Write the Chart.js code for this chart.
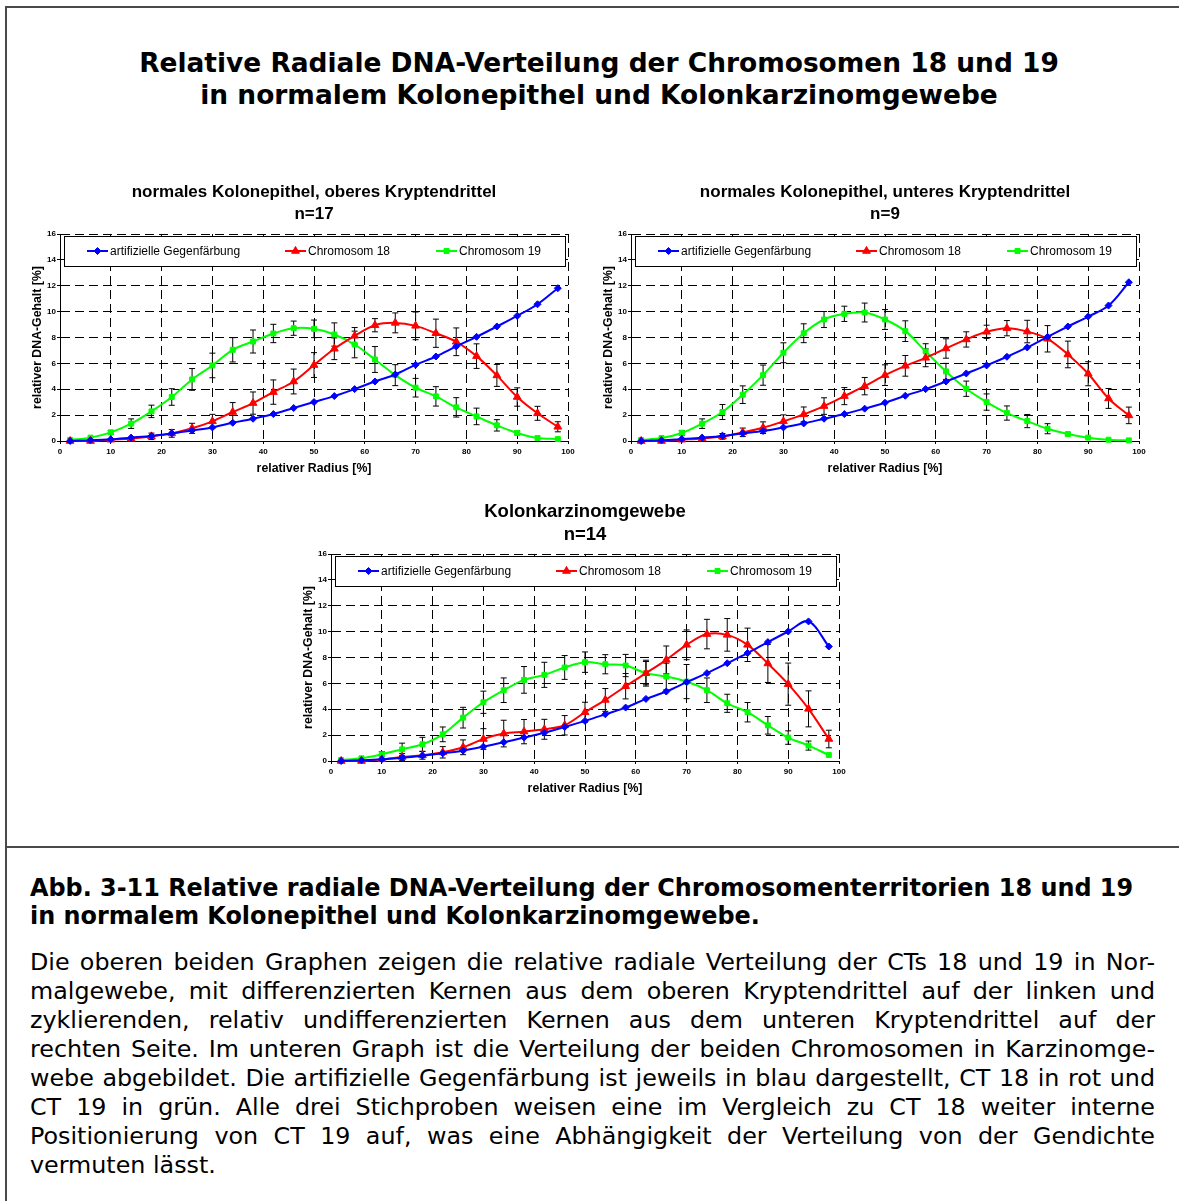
<!DOCTYPE html>
<html lang="de">
<head>
<meta charset="utf-8">
<title>Relative radiale DNA-Verteilung</title>
<script src="https://cdn.jsdelivr.net/npm/chart.js@4.4.1/dist/chart.umd.min.js"></script>
<style>
  body { margin: 0; background: #fff; }
  #page { position: relative; width: 1179px; height: 1201px; overflow: hidden; background: #fff;
          font-family: "DejaVu Sans", Verdana, sans-serif; color: #000; }
  #frame { position: absolute; left: 5px; top: 6px; width: 1200px; height: 1220px;
           border-left: 2px solid #4a4a4a; border-top: 2px solid #4a4a4a; }
  #rule { position: absolute; left: 5px; top: 846px; width: 1200px; border-top: 2px solid #4a4a4a; }
  .head { position: absolute; left: 0; width: 1198px; text-align: center; font-weight: bold;
          font-size: 26.45px; line-height: 32px; white-space: nowrap; }
  .cap { position: absolute; left: 30px; font-weight: bold; font-size: 23.9px; line-height: 28px; white-space: nowrap; }
  .txt { position: absolute; left: 30px; width: 1125px; font-size: 23.8px; line-height: 29px;
         text-align: justify; text-align-last: justify; }
  .txt.last { text-align-last: left; }
  .chart { position: absolute; width: 550px; height: 300px; }
</style>
</head>
<body>
<div id="page">
  <div id="frame"></div>
  <div id="rule"></div>

  <div class="head" style="top:47px">Relative Radiale DNA-Verteilung der Chromosomen 18 und 19</div>
  <div class="head" style="top:79px">in normalem Kolonepithel und Kolonkarzinomgewebe</div>

  <div class="chart" style="left:30px; top:180px"><canvas id="oben" width="550" height="300"></canvas></div>
  <div class="chart" style="left:601px; top:180px"><canvas id="unten" width="550" height="300"></canvas></div>
  <div class="chart" style="left:301px; top:500px"><canvas id="karzinom" width="550" height="300"></canvas></div>

  <div class="cap" style="top:874px">Abb. 3-11 Relative radiale DNA-Verteilung der Chromosomenterritorien 18 und 19</div>
  <div class="cap" style="top:902px">in normalem Kolonepithel und Kolonkarzinomgewebe.</div>

  <div class="txt" style="top:948px">Die oberen beiden Graphen zeigen die relative radiale Verteilung der CTs 18 und 19 in Nor-</div>
  <div class="txt" style="top:977px">malgewebe, mit differenzierten Kernen aus dem oberen Kryptendrittel auf der linken und</div>
  <div class="txt" style="top:1006px">zyklierenden, relativ undifferenzierten Kernen aus dem unteren Kryptendrittel auf der</div>
  <div class="txt" style="top:1035px">rechten Seite. Im unteren Graph ist die Verteilung der beiden Chromosomen in Karzinomge-</div>
  <div class="txt" style="top:1064px">webe abgebildet. Die artifizielle Gegenfärbung ist jeweils in blau dargestellt, CT 18 in rot und</div>
  <div class="txt" style="top:1093px">CT 19 in grün. Alle drei Stichproben weisen eine im Vergleich zu CT 18 weiter interne</div>
  <div class="txt" style="top:1122px">Positionierung von CT 19 auf, was eine Abhängigkeit der Verteilung von der Gendichte</div>
  <div class="txt last" style="top:1151px">vermuten lässt.</div>
</div>

<script>
// relative radius (%) of the measured shells
const radius = [2, 6, 10, 14, 18, 22, 26, 30, 34, 38, 42, 46, 50, 54, 58, 62, 66, 70, 74, 78, 82, 86, 90, 94, 98];
const seriesNames = ["artifizielle Gegenfärbung", "Chromosom 18", "Chromosom 19"];

// normales Kolonepithel, oberes Kryptendrittel (n=17)
const obenGegen = [0, 0.05, 0.13, 0.26, 0.39, 0.59, 0.82, 1.05, 1.41, 1.72, 2.08, 2.55, 3.01, 3.47, 4.01, 4.6, 5.14, 5.89, 6.53, 7.31, 8.05, 8.85, 9.67, 10.57, 11.81];
const obenChr18 = [0, 0, 0.1, 0.18, 0.36, 0.59, 0.98, 1.52, 2.24, 2.93, 3.78, 4.6, 5.87, 7.13, 8.13, 8.95, 9.13, 8.9, 8.33, 7.67, 6.56, 5.07, 3.4, 2.14, 1.1];
const obenChr18Err = [0, 0, 0, 0.1, 0.25, 0.3, 0.39, 0.54, 0.73, 0.86, 0.94, 0.96, 0.96, 0.84, 0.64, 0.51, 0.77, 1.07, 1.09, 1.07, 0.95, 0.85, 0.71, 0.54, 0.39];
const obenChr19 = [0.08, 0.26, 0.67, 1.34, 2.29, 3.4, 4.76, 5.84, 7.05, 7.69, 8.31, 8.72, 8.67, 8.23, 7.46, 6.3, 5.09, 4.12, 3.45, 2.6, 1.9, 1.21, 0.62, 0.23, 0.15];
const obenChr19Err = [0, 0, 0.15, 0.37, 0.48, 0.64, 0.84, 0.95, 0.94, 0.89, 0.71, 0.55, 0.68, 0.9, 1.03, 1.0, 0.81, 0.72, 0.75, 0.75, 0.64, 0.44, 0.15, 0, 0];

// normales Kolonepithel, unteres Kryptendrittel (n=9)
const untenGegen = [0, 0.05, 0.15, 0.26, 0.39, 0.59, 0.77, 1.05, 1.36, 1.72, 2.08, 2.5, 2.96, 3.5, 4.01, 4.6, 5.22, 5.84, 6.51, 7.23, 8.05, 8.85, 9.62, 10.47, 12.27];
const untenChr18 = [0, 0, 0.1, 0.2, 0.36, 0.67, 1.03, 1.52, 2.06, 2.7, 3.47, 4.24, 5.09, 5.81, 6.43, 7.15, 7.85, 8.44, 8.72, 8.46, 7.9, 6.69, 5.2, 3.29, 1.98];
const untenChr18Err = [0, 0, 0, 0.1, 0.22, 0.33, 0.45, 0.5, 0.57, 0.64, 0.66, 0.67, 0.8, 0.8, 0.69, 0.75, 0.59, 0.51, 0.59, 0.87, 1.02, 1.03, 0.93, 0.77, 0.64];
const untenChr19 = [0.08, 0.23, 0.62, 1.34, 2.24, 3.58, 5.09, 6.82, 8.33, 9.39, 9.83, 9.93, 9.39, 8.49, 6.92, 5.38, 4.04, 3.01, 2.16, 1.54, 0.95, 0.54, 0.26, 0.1, 0.05];
const untenChr19Err = [0, 0, 0.2, 0.37, 0.58, 0.68, 0.78, 0.77, 0.73, 0.62, 0.59, 0.73, 0.77, 0.8, 0.6, 0.62, 0.59, 0.63, 0.55, 0.51, 0.39, 0.1, 0, 0, 0];

// Kolonkarzinomgewebe (n=14)
const karzGegen = [0, 0.05, 0.13, 0.26, 0.41, 0.59, 0.8, 1.11, 1.45, 1.81, 2.19, 2.63, 3.1, 3.61, 4.13, 4.8, 5.37, 6.09, 6.79, 7.56, 8.34, 9.19, 10.01, 10.79, 8.85];
const karzChr18 = [0, 0, 0.13, 0.31, 0.44, 0.67, 1.06, 1.7, 2.12, 2.27, 2.45, 2.76, 3.77, 4.72, 5.78, 6.79, 7.82, 8.98, 9.81, 9.75, 8.98, 7.54, 5.94, 4.03, 1.7];
const karzChr18Err = [0, 0, 0, 0.26, 0.3, 0.44, 0.57, 0.8, 1.03, 0.94, 0.77, 0.75, 0.77, 0.88, 0.98, 0.9, 1.07, 1.15, 1.14, 1.26, 1.29, 1.47, 1.63, 1.39, 0.68];
const karzChr19 = [0.08, 0.21, 0.52, 0.9, 1.29, 2.06, 3.35, 4.54, 5.47, 6.27, 6.66, 7.23, 7.64, 7.48, 7.38, 6.79, 6.53, 6.14, 5.47, 4.46, 3.77, 2.76, 1.81, 1.19, 0.46];
const karzChr19Err = [0, 0, 0.2, 0.48, 0.54, 0.57, 0.8, 0.86, 0.95, 1.03, 0.97, 0.92, 0.79, 0.74, 0.86, 1.0, 1.03, 1.32, 0.95, 0.7, 0.75, 0.68, 0.52, 0.35, 0];

const FONT = "'Liberation Sans', Arial, sans-serif";
const BLUE = "#0000ff", RED = "#ff0000", GREEN = "#00ff00";

// --- helpers ---
function points(values) {
  return radius.map((r, i) => ({ x: r, y: values[i] }));
}

// each error bar is a short vertical segment, a null point breaks the line
function errorPoints(values, errors) {
  const pts = [];
  radius.forEach((r, i) => {
    if (!errors[i]) return;
    pts.push({ x: r, y: values[i] - errors[i] }, { x: r, y: values[i] + errors[i] }, { x: r, y: null });
  });
  return pts;
}

function seriesSet(label, values, color, style, size) {
  return {
    label: label,
    data: points(values),
    borderColor: color,
    backgroundColor: color,
    borderWidth: 2,
    pointStyle: style,
    pointRadius: size,
    pointBorderWidth: 1,
    tension: 0.35,
    clip: false,
    order: 1
  };
}

function errorSet(values, errors) {
  return {
    label: "err",
    data: errorPoints(values, errors),
    borderColor: "#000",
    borderWidth: 1,
    pointStyle: "line",
    pointRadius: 3,
    pointBorderWidth: 1,
    pointBorderColor: "#000",
    spanGaps: false,
    tension: 0,
    clip: false,
    order: 2
  };
}

// boxed legend at the top of the plot area, line + marker samples
const boxLegend = {
  id: "boxLegend",
  beforeDatasetsDraw(chart) {
    const { ctx, chartArea } = chart;
    const top = chartArea.top + 2, h = 30;
    const left = chartArea.left + 4, right = chartArea.right - 3;
    ctx.save();
    ctx.fillStyle = "#fff";
    ctx.fillRect(left, top, right - left, h);
    ctx.strokeStyle = "#000";
    ctx.lineWidth = 1;
    ctx.strokeRect(left + 0.5, top + 0.5, right - left, h);
    const offsets = [27, 225, 376];
    const cy = top + h / 2;
    ctx.font = "12px " + FONT;
    ctx.textBaseline = "middle";
    offsets.forEach((off, i) => {
      const ds = chart.data.datasets[i];
      const x0 = chartArea.left + off;
      ctx.strokeStyle = ds.borderColor;
      ctx.fillStyle = ds.backgroundColor;
      ctx.lineWidth = 2;
      ctx.beginPath();
      ctx.moveTo(x0, cy);
      ctx.lineTo(x0 + 21, cy);
      ctx.stroke();
      ctx.lineWidth = 1;
      Chart.helpers.drawPoint(ctx, { pointStyle: ds.pointStyle, radius: ds.pointRadius, rotation: 0, borderWidth: 1 }, x0 + 10.5, cy);
      ctx.fillStyle = "#000";
      ctx.fillText(ds.label, x0 + 23, cy + 0.5);
    });
    ctx.restore();
  }
};

function makeChart(id, title, titleFont, gegen, chr18, chr18Err, chr19, chr19Err) {
  const axisFont = { family: FONT, size: 8, weight: "bold" };
  const axisTitleFont = { family: FONT, size: 12.3, weight: "bold" };
  return new Chart(document.getElementById(id), {
    type: "line",
    data: {
      datasets: [
        seriesSet(seriesNames[0], gegen, BLUE, "rectRot", 3.5),
        seriesSet(seriesNames[1], chr18, RED, "triangle", 4.5),
        seriesSet(seriesNames[2], chr19, GREEN, "rect", 3.5),
        errorSet(chr18, chr18Err),
        errorSet(chr19, chr19Err)
      ]
    },
    options: {
      responsive: false,
      animation: false,
      devicePixelRatio: 1,
      layout: { padding: { left: 0, right: 12, top: 0, bottom: 0 } },
      plugins: {
        legend: { display: false },
        tooltip: { enabled: false },
        title: {
          display: true,
          fullSize: false,
          text: title,
          color: "#000",
          font: { family: FONT, size: titleFont.size, weight: "bold", lineHeight: titleFont.lineHeight },
          padding: titleFont.padding
        }
      },
      scales: {
        x: {
          type: "linear",
          min: 0, max: 100,
          ticks: { stepSize: 10, color: "#000", font: axisFont, padding: 3, maxRotation: 0 },
          grid: { color: "#000", lineWidth: 1, tickLength: 3, tickColor: "#000", tickBorderDash: [] },
          border: { color: "#000", width: 1, dash: [9, 5] },
          title: { display: true, text: "relativer Radius [%]", color: "#000",
                   font: axisTitleFont, padding: { top: 0, bottom: 3.6 } },
          afterFit(scale) { scale.height = 39; }
        },
        y: {
          min: 0, max: 16,
          ticks: { stepSize: 2, color: "#000", font: axisFont, padding: 1 },
          grid: { color: "#000", lineWidth: 1, tickLength: 3, tickColor: "#000", tickBorderDash: [] },
          border: { color: "#000", width: 1, dash: [9, 5] },
          title: { display: true, text: "relativer DNA-Gehalt [%]", color: "#000",
                   font: axisTitleFont, padding: { top: 0.6, bottom: 0 } },
          afterFit(scale) { scale.width = 30; }
        }
      }
    },
    plugins: [boxLegend]
  });
}

const upperTitle = { size: 17, lineHeight: 22 / 17, padding: { top: 1, bottom: 9 } };
const lowerTitle = { size: 18.5, lineHeight: 23 / 18.5, padding: { top: 0.5, bottom: 7.5 } };

makeChart("oben", ["normales Kolonepithel, oberes Kryptendrittel", "n=17"], upperTitle,
  obenGegen, obenChr18, obenChr18Err, obenChr19, obenChr19Err);
makeChart("unten", ["normales Kolonepithel, unteres Kryptendrittel", "n=9"], upperTitle,
  untenGegen, untenChr18, untenChr18Err, untenChr19, untenChr19Err);
makeChart("karzinom", ["Kolonkarzinomgewebe", "n=14"], lowerTitle,
  karzGegen, karzChr18, karzChr18Err, karzChr19, karzChr19Err);
</script>
</body>
</html>
